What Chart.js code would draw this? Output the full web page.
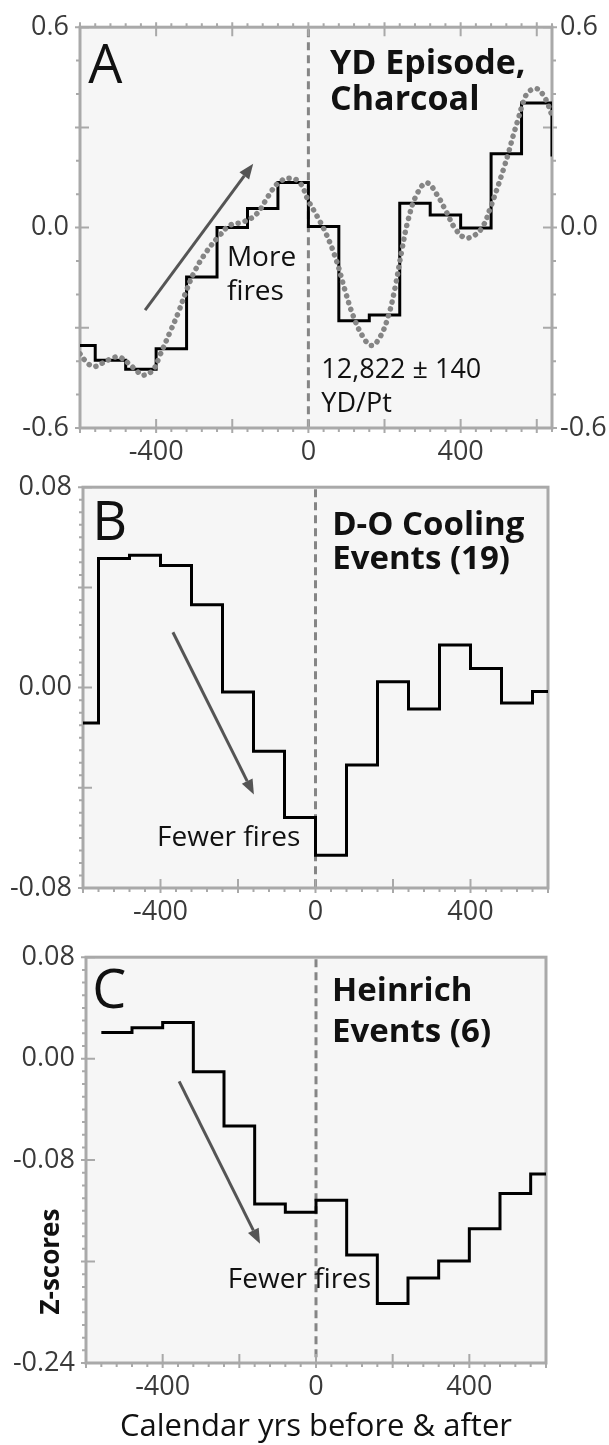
<!DOCTYPE html>
<html>
<head>
<meta charset="utf-8">
<title>Charcoal z-scores</title>
<script src="https://cdn.jsdelivr.net/npm/chart.js@4.4.1/dist/chart.umd.min.js"></script>
<style>
  html, body { margin: 0; padding: 0; background: #fff; }
  body { width: 609px; height: 1445px; position: relative; overflow: hidden; }
  .panel { position: absolute; left: 0; width: 609px; }
  #panel-a { top: 0; height: 470px; }
  #panel-b { top: 460px; height: 480px; }
  #panel-c { top: 930px; height: 515px; }
</style>
</head>
<body>
<div class="panel" id="panel-a"><canvas id="chart-a"></canvas></div>
<div class="panel" id="panel-b"><canvas id="chart-b"></canvas></div>
<div class="panel" id="panel-c"><canvas id="chart-c"></canvas></div>

<script>
// 80-yr bins, centre years
const binCenters = [-600, -520, -440, -360, -280, -200, -120, -40, 40, 120, 200, 280, 360, 440, 520, 600];
const binCentersA = [-600, -520, -440, -360, -280, -200, -120, -40, 40, 120, 200, 280, 360, 440, 520, 600, 680];
const binWidth = 80;

// A: YD episode, charcoal (binned)
const charcoalA = [-0.353, -0.397, -0.424, -0.363, -0.148, 0.0, 0.057, 0.135, 0.003, -0.279, -0.262, 0.073, 0.038, -0.001, 0.221, 0.373, 0.213];

// A: smoothed curve (dotted)
const smoothYearsA = [-600, -585, -565, -540, -521, -499, -473, -450, -434, -408, -390, -364, -342, -320, -298, -267, -232, -206, -171, -136, -105, -79, -48, -22, 0, 22, 48, 74, 96, 118, 144, 166, 188, 210, 228, 245, 263, 285, 311, 337, 363, 385, 411, 438, 460, 477, 495, 512, 525, 538, 552, 565, 578, 600, 617, 630, 640];
const smoothA = [-0.378, -0.400, -0.416, -0.405, -0.394, -0.387, -0.406, -0.430, -0.442, -0.426, -0.382, -0.314, -0.255, -0.187, -0.129, -0.071, -0.022, 0.007, 0.017, 0.041, 0.095, 0.134, 0.148, 0.134, 0.080, 0.036, -0.022, -0.100, -0.187, -0.265, -0.328, -0.353, -0.328, -0.265, -0.178, -0.071, 0.027, 0.100, 0.134, 0.100, 0.046, -0.002, -0.030, -0.022, 0.007, 0.056, 0.114, 0.173, 0.221, 0.275, 0.328, 0.377, 0.406, 0.416, 0.397, 0.367, 0.335];

// B: D-O cooling events (19)
const doCoolingB = [-0.0141, 0.0515, 0.0528, 0.0487, 0.0331, -0.0018, -0.0254, -0.0519, -0.0669, -0.0309, 0.0023, -0.0085, 0.0170, 0.0076, -0.0061, -0.0016];

// C: Heinrich events (6), first bin empty
const heinrichC = [null, 0.0207, 0.0243, 0.0285, -0.0103, -0.0531, -0.1147, -0.1212, -0.1116, -0.1548, -0.1931, -0.1730, -0.1595, -0.1341, -0.1064, -0.0909];

// tick labels
const xTickValues = [-400, 0, 400];
const xTickLabels = ['-400', '0', '400'];
const yTickValuesA = [-0.6, 0, 0.6];
const yTickLabelsA = ['-0.6', '0.0', '0.6'];
const yTickValuesB = [-0.08, 0, 0.08];
const yTickLabelsB = ['-0.08', '0.00', '0.08'];
const yTickValuesC = [-0.24, -0.08, 0, 0.08];
const yTickLabelsC = ['-0.24', '-0.08', '0.00', '0.08'];

const FONT = '"Open Sans", sans-serif';
const TICK_FONT = { family: FONT, size: 27 };
const TICK_COLOR = '#3a3a3a';
const FRAME_COLOR = '#a9a9a9';
const DOT_COLOR = '#858585';
const ARROW_COLOR = '#555';

Chart.defaults.font.family = FONT;

/** step points: value held from left bin edge to next edge */
function stepPoints(centers, values) {
  const pts = centers.map((c, i) => ({ x: c - binWidth / 2, y: values[i] }));
  const last = centers.length - 1;
  pts.push({ x: centers[last] + binWidth / 2, y: values[last] });
  return pts;
}

/** tick marks: minors outward, majors cross the frame */
function drawTickMarks(ctx, scale, side, a, t) {
  const n = Math.round((scale.max - scale.min) / t.minor);
  ctx.beginPath();
  for (let i = 0; i <= n; i++) {
    const v = scale.min + i * t.minor;
    const r = v / t.major;
    const major = Math.abs(r - Math.round(r)) < 1e-6;
    const p = scale.getPixelForValue(v);
    const out = major ? 5 : 4;
    const inn = major ? 9 : 0;
    if (side === 'bottom') { ctx.moveTo(p, a.bottom - inn); ctx.lineTo(p, a.bottom + out); }
    if (side === 'top') { ctx.moveTo(p, a.top + inn); ctx.lineTo(p, a.top - out); }
    if (side === 'left') { ctx.moveTo(a.left + inn, p); ctx.lineTo(a.left - out, p); }
    if (side === 'right') { ctx.moveTo(a.right - inn, p); ctx.lineTo(a.right + out, p); }
  }
  ctx.stroke();
}

function drawArrow(ctx, x1, y1, x2, y2) {
  const ang = Math.atan2(y2 - y1, x2 - x1);
  const head = 15, half = 6;
  const bx = x2 - head * Math.cos(ang), by = y2 - head * Math.sin(ang);
  ctx.beginPath();
  ctx.moveTo(x1, y1);
  ctx.lineTo(bx, by);
  ctx.stroke();
  ctx.beginPath();
  ctx.moveTo(x2, y2);
  ctx.lineTo(bx + half * Math.sin(ang), by - half * Math.cos(ang));
  ctx.lineTo(bx - half * Math.sin(ang), by + half * Math.cos(ang));
  ctx.closePath();
  ctx.fill();
}

/** panel background, frame, zero line, ticks, notes and arrows */
function makeDecor(cfg) {
  return {
    id: 'decor',
    beforeDatasetsDraw(chart) {
      const { ctx, chartArea: a, scales } = chart;
      ctx.save();
      ctx.fillStyle = '#f6f6f6';
      ctx.fillRect(a.left, a.top, a.right - a.left, a.bottom - a.top);

      const x0 = scales.x.getPixelForValue(0);
      ctx.strokeStyle = '#858585';
      ctx.lineWidth = 3;
      ctx.setLineDash([8, 5]);
      ctx.beginPath();
      ctx.moveTo(x0, a.top + 2);
      ctx.lineTo(x0, a.bottom);
      ctx.stroke();
      ctx.setLineDash([]);

      ctx.strokeStyle = FRAME_COLOR;
      ctx.lineWidth = 3;
      ctx.strokeRect(a.left, a.top, a.right - a.left, a.bottom - a.top);
      ctx.lineWidth = 2;
      cfg.ticks.forEach(t => drawTickMarks(ctx, scales[t.axis], t.side, a, t));
      ctx.restore();
    },
    afterDatasetsDraw(chart) {
      const { ctx, scales } = chart;
      ctx.save();
      ctx.strokeStyle = ARROW_COLOR;
      ctx.fillStyle = ARROW_COLOR;
      ctx.lineWidth = 3;
      cfg.arrows.forEach(ar => {
        drawArrow(ctx,
          scales.x.getPixelForValue(ar.from[0]), scales.y.getPixelForValue(ar.from[1]),
          scales.x.getPixelForValue(ar.to[0]), scales.y.getPixelForValue(ar.to[1]));
      });
      cfg.notes.forEach(n => {
        ctx.save();
        ctx.translate(scales.x.getPixelForValue(n.x), scales.y.getPixelForValue(n.y));
        if (n.rotate) ctx.rotate(n.rotate * Math.PI / 180);
        ctx.font = n.font;
        ctx.fillStyle = '#111';
        ctx.textAlign = n.align || 'left';
        ctx.textBaseline = n.baseline || 'alphabetic';
        ctx.fillText(n.text, 0, 0);
        ctx.restore();
      });
      ctx.restore();
    }
  };
}

function xScale(min, max, height, title) {
  return {
    type: 'linear', position: 'bottom', min, max,
    grid: { display: false, drawTicks: false },
    border: { display: false },
    afterBuildTicks: s => { s.ticks = xTickValues.map(v => ({ value: v })); },
    afterFit: s => { s.height = height; },
    ticks: {
      padding: 8, color: TICK_COLOR, font: TICK_FONT, autoSkip: false, maxRotation: 0,
      callback: (v, i) => xTickLabels[i]
    },
    title: title
      ? { display: true, text: title, color: '#111', font: { family: FONT, size: 31, lineHeight: 1 }, padding: { top: 0, bottom: 2 } }
      : { display: false }
  };
}

function yScale(min, max, width, position, values, labels) {
  return {
    type: 'linear', position, min, max,
    grid: { display: false, drawTicks: false },
    border: { display: false },
    afterBuildTicks: s => { s.ticks = values.map(v => ({ value: v })); },
    afterFit: s => { s.width = width; },
    ticks: {
      padding: position === 'left' ? 11 : 8, color: TICK_COLOR, font: TICK_FONT, autoSkip: false,
      callback: (v, i) => labels[i]
    }
  };
}

function stepDataset(centers, values) {
  return {
    data: stepPoints(centers, values),
    stepped: true,
    borderColor: '#000',
    borderWidth: 3,
    pointRadius: 0,
    spanGaps: false,
    fill: false
  };
}

const baseOptions = {
  responsive: true,
  maintainAspectRatio: false,
  animation: false,
  devicePixelRatio: 1,
  events: [],
  plugins: { legend: { display: false }, tooltip: { enabled: false } }
};

const BIG = '54px ' + FONT;
const NOTE = '28px ' + FONT;

// Panel A
new Chart(document.getElementById('chart-a'), {
  type: 'line',
  data: {
    datasets: [
      {
        data: smoothYearsA.map((x, i) => ({ x, y: smoothA[i] })),
        borderColor: DOT_COLOR,
        borderWidth: 5.5,
        borderDash: [0.1, 7],
        borderCapStyle: 'round',
        tension: 0.4,
        pointRadius: 0,
        fill: false
      },
      stepDataset(binCentersA, charcoalA)
    ]
  },
  options: {
    ...baseOptions,
    layout: { padding: { top: 17, left: 0, right: 0, bottom: 0 } },
    scales: {
      x: xScale(-600, 640, 42),
      y: yScale(-0.6, 0.6, 80, 'left', yTickValuesA, yTickLabelsA),
      yRight: yScale(-0.6, 0.6, 57, 'right', yTickValuesA, yTickLabelsA)
    }
  },
  plugins: [makeDecor({
    ticks: [
      { axis: 'x', side: 'bottom', minor: 40, major: 200 },
      { axis: 'x', side: 'top', minor: 40, major: 200 },
      { axis: 'y', side: 'left', minor: 0.1, major: 0.3 },
      { axis: 'y', side: 'right', minor: 0.1, major: 0.3 }
    ],
    arrows: [{ from: [-429, -0.247], to: [-145, 0.191] }],
    notes: [
      { text: 'A', x: -578, y: 0.432, font: BIG },
      { text: 'YD Episode,', x: 57, y: 0.460, font: 'bold 34px ' + FONT },
      { text: 'Charcoal', x: 57, y: 0.352, font: 'bold 34px ' + FONT },
      { text: 'More', x: -214, y: -0.115, font: NOTE },
      { text: 'fires', x: -214, y: -0.218, font: NOTE },
      { text: '12,822 \u00b1 140', x: 34, y: -0.451, font: '27px ' + FONT },
      { text: 'YD/Pt', x: 34, y: -0.553, font: '27px ' + FONT }
    ]
  })]
});

// Panel B
new Chart(document.getElementById('chart-b'), {
  type: 'line',
  data: { datasets: [stepDataset(binCenters, doCoolingB)] },
  options: {
    ...baseOptions,
    layout: { padding: { top: 16, left: 0, right: 61, bottom: 0 } },
    scales: {
      x: xScale(-600, 600, 52),
      y: yScale(-0.08, 0.08, 83, 'left', yTickValuesB, yTickLabelsB)
    }
  },
  plugins: [makeDecor({
    ticks: [
      { axis: 'x', side: 'bottom', minor: 40, major: 200 },
      { axis: 'y', side: 'left', minor: 0.005, major: 0.04 }
    ],
    arrows: [{ from: [-368, 0.0221], to: [-159, -0.0427] }],
    notes: [
      { text: 'B', x: -576, y: 0.059, font: BIG },
      { text: 'D-O Cooling', x: 43, y: 0.061, font: 'bold 33px ' + FONT },
      { text: 'Events (19)', x: 43, y: 0.0474, font: 'bold 33px ' + FONT },
      { text: 'Fewer fires', x: -409, y: -0.0633, font: NOTE }
    ]
  })]
});

// Panel C
new Chart(document.getElementById('chart-c'), {
  type: 'line',
  data: { datasets: [stepDataset(binCenters, heinrichC)] },
  options: {
    ...baseOptions,
    layout: { padding: { top: 21, left: 0, right: 63, bottom: 0 } },
    scales: {
      x: xScale(-600, 600, 82, 'Calendar yrs before & after'),
      y: yScale(-0.24, 0.08, 86, 'left', yTickValuesC, yTickLabelsC)
    }
  },
  plugins: [makeDecor({
    ticks: [
      { axis: 'x', side: 'bottom', minor: 40, major: 200 },
      { axis: 'y', side: 'left', minor: 0.01, major: 0.08 }
    ],
    arrows: [{ from: [-357, -0.0179], to: [-146, -0.146] }],
    notes: [
      { text: 'C', x: -584, y: 0.0396, font: BIG },
      { text: 'Heinrich', x: 42, y: 0.0458, font: 'bold 33px ' + FONT },
      { text: 'Events (6)', x: 42, y: 0.0132, font: 'bold 33px ' + FONT },
      { text: 'Fewer fires', x: -230, y: -0.181, font: NOTE },
      { text: 'Z-scores', x: -689, y: -0.16, font: 'bold 26px ' + FONT, rotate: -90, align: 'center', baseline: 'middle' }
    ]
  })]
});
</script>
</body>
</html>
